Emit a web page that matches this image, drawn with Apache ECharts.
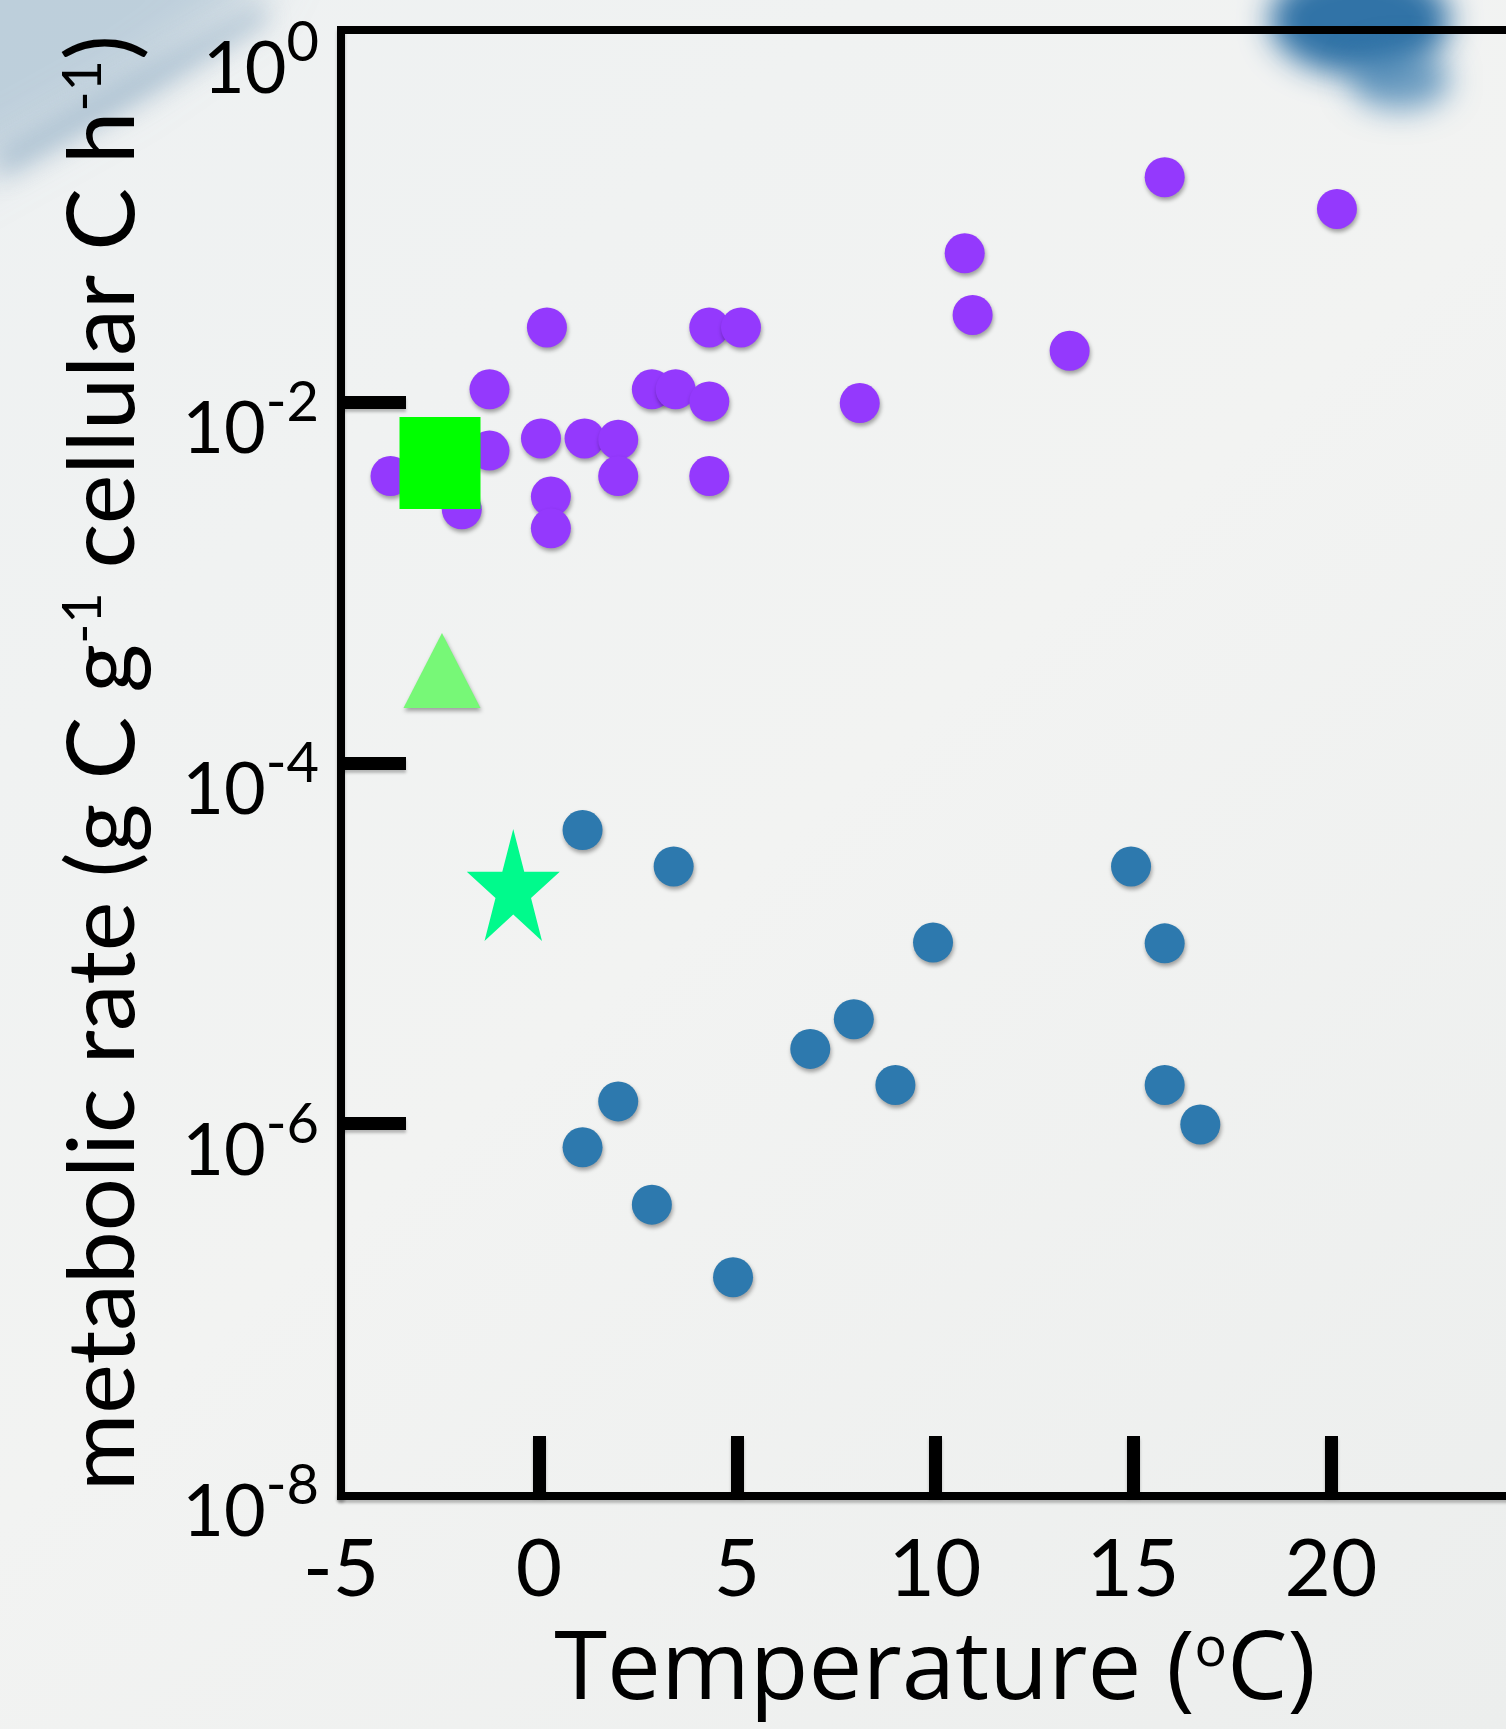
<!DOCTYPE html>
<html>
<head>
<meta charset="utf-8">
<script src="https://cdn.jsdelivr.net/npm/echarts@6/dist/echarts.min.js"></script>
<style>
  html, body { margin: 0; padding: 0; }
  #chart { width: 1506px; height: 1729px; }
</style>
</head>
<body>
<div id="chart"></div>
<script>
// temperature (°C) and metabolic rate (g C g-1 cellular C h-1)
var purpleTemp = [0.2, 4.3, 5.1, 10.95, 13.4, -1.25, 2.85, 3.45, 4.3, 8.1, 0.05, 1.15,
                  2.0, -1.25, -3.75, 2.0, 4.3, 0.3, 0.3, -1.95, 15.8, 20.15, 10.75];
var purpleRate = [0.026, 0.026, 0.026, 0.0305, 0.0193, 0.0118, 0.0118, 0.0118, 0.0101, 0.0099, 0.0063, 0.0063,
                  0.0062, 0.0054, 0.0039, 0.0039, 0.0039, 0.0030, 0.0020, 0.00255, 0.177, 0.118, 0.067];

var blueTemp = [1.1, 3.4, 14.95, 9.95, 15.8, 7.95, 6.85, 9.0, 15.8, 16.7, 2.0, 1.1, 2.85, 4.9];
var blueRate = [4.25e-5, 2.67e-5, 2.67e-5, 1.01e-5, 1.0e-5, 3.8e-6, 2.6e-6, 1.64e-6, 1.64e-6, 9.9e-7,
                1.33e-6, 7.4e-7, 3.56e-7, 1.41e-7];

var squareTemp = [-2.5];
var squareRate = [4.6e-3];
var triangleTemp = [-2.45];
var triangleRate = [3.26e-4];
var starTemp = [-0.65];
var starRate = [2.11e-5];

// axis ticks / labels
var xTickValues = [0, 5, 10, 15, 20];
var xLabelValues = [-5, 0, 5, 10, 15, 20];
var yTickValues = [1e-2, 1e-4, 1e-6];
var yLabelValues = [1, 1e-2, 1e-4, 1e-6, 1e-8];

function pairs(xs, ys) {
	return xs.map(function(x, i) { return [x, ys[i]]; });
}

var font = 'Lato';
var dotShadow = {
	shadowColor : 'rgba(0,0,0,0.35)',
	shadowBlur : 4,
	shadowOffsetX : 1,
	shadowOffsetY : 3
};
var lineShadow = {
	shadowColor : 'rgba(0,0,0,0.25)',
	shadowBlur : 3,
	shadowOffsetY : 3
};
var starPath = 'path://M50 0 L61.23 34.55 L97.55 34.55 L68.17 55.9 L79.39 90.45 L50 69.1 L20.61 90.45 L31.83 55.9 L2.45 34.55 L38.77 34.55 Z';

// soft cloud patches of the sky photo: the shape is pushed off screen, only its blurred shadow shows
var OFF = 3000;
function haze(type, shape, color, blur) {
	if (type === 'polygon') {
		shape = { points : shape.points.map(function(p) { return [p[0] + OFF, p[1]]; }) };
	} else {
		shape = Object.assign({}, shape, { cx : shape.cx + OFF });
	}
	return {
		type : type, z : -10, silent : true, shape : shape,
		style : { fill : '#000', shadowColor : color, shadowBlur : blur, shadowOffsetX : -OFF }
	};
}

var chart = echarts.init(document.getElementById('chart'));

var option = {
	animation : false,
	backgroundColor : {
		type : 'linear', x : 0, y : 0, x2 : 1, y2 : 1,
		colorStops : [ { offset : 0, color : '#eef1f2' }, { offset : 0.5, color : '#f2f3f2' }, { offset : 1, color : '#eceeed' } ]
	},
	graphic : [
		haze('polygon', { points : [ [ -60, -60 ], [ 280, -60 ], [ 250, 0 ], [ 120, 90 ], [ -60, 190 ] ] }, 'rgba(150,178,200,0.55)', 50),
		haze('polygon', { points : [ [ 0, 150 ], [ 140, 70 ], [ 260, 5 ], [ 270, 20 ], [ 150, 95 ], [ 0, 180 ] ] }, 'rgba(120,155,185,0.45)', 25),
		haze('ellipse', { cx : 1360, cy : 20, rx : 90, ry : 55 }, 'rgba(38,108,162,0.95)', 30),
		haze('ellipse', { cx : 1400, cy : 80, rx : 50, ry : 30 }, 'rgba(60,125,175,0.7)', 30)
	],
	grid : {
		left : 341,
		top : 30,
		width : 1188,
		height : 1466,
		show : true,
		borderColor : '#000',
		borderWidth : 8,
		backgroundColor : 'transparent',
		containLabel : false,
		outerBoundsMode : 'none'
	},
	xAxis : {
		type : 'value',
		min : -5,
		max : 25,
		interval : 5,
		axisLine : { onZero : false, lineStyle : Object.assign({ color : '#000', width : 8 }, lineShadow) },
		axisTick : {
			inside : true, length : 60,
			customValues : xTickValues,
			lineStyle : Object.assign({ color : '#000', width : 13 }, lineShadow)
		},
		axisLabel : {
			customValues : xLabelValues,
			fontFamily : font, fontSize : 80, color : '#000', margin : 34
		},
		splitLine : { show : false },
		name : 'Temperature ({s|o}C)',
		nameLocation : 'middle',
		nameGap : 128,
		nameTextStyle : {
			fontFamily : 'Open Sans', fontSize : 96, color : '#000',
			rich : { s : { fontFamily : 'Open Sans', fontSize : 54, color : '#000', verticalAlign : 'top' } }
		}
	},
	yAxis : {
		type : 'log',
		logBase : 10,
		min : Math.pow(10, -8.064),
		max : Math.pow(10, 0.064),
		axisLine : { onZero : false, lineStyle : Object.assign({ color : '#000', width : 8 }, lineShadow) },
		axisTick : {
			inside : true, length : 65,
			customValues : yTickValues,
			lineStyle : Object.assign({ color : '#000', width : 13 }, lineShadow)
		},
		minorTick : { show : false },
		axisLabel : {
			customValues : yLabelValues,
			margin : 22,
			padding : [ 56, 0, 0, 0 ],
			formatter : function(v) {
				var e = Math.round(Math.log10(v));
				return '{b|10}{s|' + e + '}';
			},
			rich : {
				b : { fontFamily : font, fontSize : 72, lineHeight : 110, color : '#000' },
				s : { fontFamily : font, fontSize : 56, lineHeight : 56, color : '#000', verticalAlign : 'top' }
			}
		},
		splitLine : { show : false },
		name : 'metabolic rate (g C g{s|-1} cellular C h{s|-1})',
		nameLocation : 'middle',
		nameGap : 190,
		nameRotate : 90,
		nameTextStyle : {
			fontFamily : font, fontSize : 94, color : '#000',
			rich : { s : { fontFamily : font, fontSize : 54, color : '#000', verticalAlign : 'top' } }
		}
	},
	series : [ {
		name : 'blue',
		type : 'scatter',
		symbol : 'circle',
		symbolSize : 40,
		itemStyle : Object.assign({ color : '#2d79ae', opacity : 1 }, dotShadow),
		data : pairs(blueTemp, blueRate)
	}, {
		name : 'purple',
		type : 'scatter',
		symbol : 'circle',
		symbolSize : 40,
		itemStyle : Object.assign({ color : '#9439fd', opacity : 1 }, dotShadow),
		data : pairs(purpleTemp, purpleRate)
	}, {
		name : 'square',
		type : 'scatter',
		symbol : 'rect',
		symbolSize : [ 81, 92 ],
		itemStyle : { color : '#00ff00', opacity : 1 },
		data : pairs(squareTemp, squareRate)
	}, {
		name : 'triangle',
		type : 'scatter',
		symbol : 'triangle',
		symbolSize : [ 77, 75 ],
		itemStyle : Object.assign({ color : '#77f877', opacity : 1 }, dotShadow),
		data : pairs(triangleTemp, triangleRate)
	}, {
		name : 'star',
		type : 'scatter',
		symbol : starPath,
		symbolSize : [ 93, 112 ],
		itemStyle : { color : '#00fa8c', opacity : 1 },
		data : pairs(starTemp, starRate)
	} ]
};

chart.setOption(option);
</script>
</body>
</html>
